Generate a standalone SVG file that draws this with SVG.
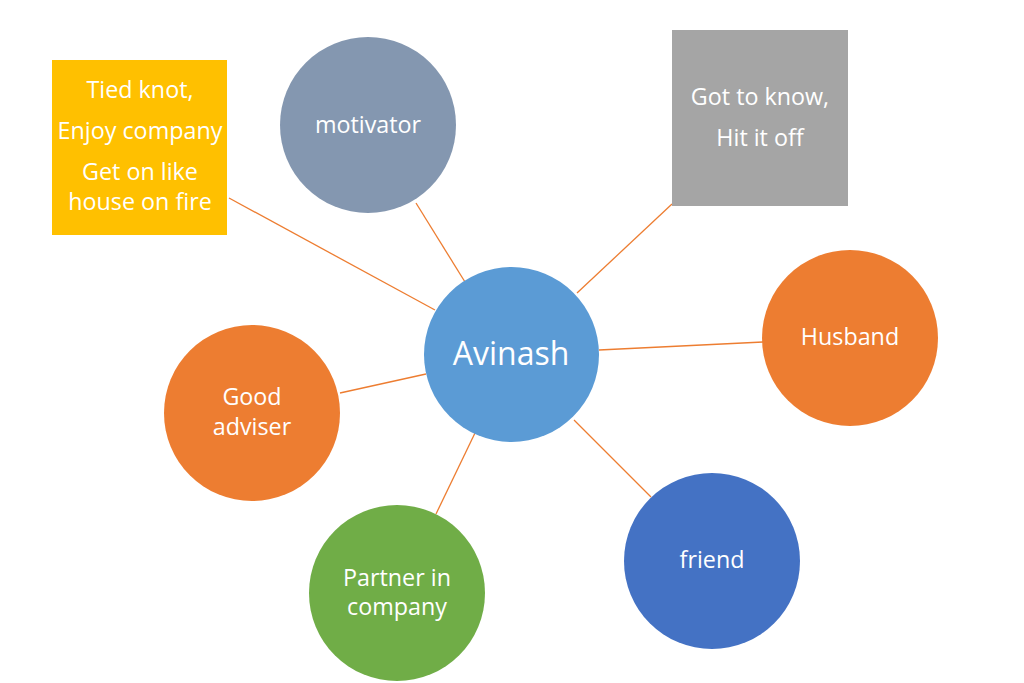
<svg xmlns="http://www.w3.org/2000/svg" width="1024" height="683" viewBox="0 0 1024 683">
<style>
text{font-family:"Open Sans","Liberation Sans",sans-serif;fill:#fff;text-anchor:middle;font-size:23.3px}
.big{font-size:32px}
.conn line{stroke:#ED7D31;stroke-width:1.3}
</style>
<rect width="1024" height="683" fill="#fff"/>
<g class="conn" id="connectors">
<line x1="229" y1="198" x2="435" y2="310"/>
<line x1="416" y1="203" x2="465" y2="282"/>
<line x1="672" y1="204" x2="577" y2="293"/>
<line x1="599" y1="350" x2="763" y2="342"/>
<line x1="340" y1="393" x2="426" y2="374"/>
<line x1="436" y1="514" x2="475" y2="433"/>
<line x1="574" y1="420" x2="651" y2="497"/>
</g>
<g id="yellow"><rect x="52" y="60" width="175" height="175" fill="#FFC000"/>
<text x="140" y="98">Tied knot,</text><text x="140" y="139">Enjoy company</text><text x="140" y="180">Get on like</text><text x="140" y="210">house on fire</text></g>
<g id="motivator"><circle cx="368" cy="125" r="88" fill="#8497B0"/><text x="368" y="133">motivator</text></g>
<g id="gray"><rect x="672" y="30" width="176" height="176" fill="#A5A5A5"/>
<text x="760" y="105">Got to know,</text><text x="760" y="146">Hit it off</text></g>
<g id="avinash"><circle cx="511.5" cy="354.5" r="87.5" fill="#5B9BD5"/><text class="big" x="511" y="365">Avinash</text></g>
<g id="husband"><circle cx="850" cy="338" r="88" fill="#ED7D31"/><text x="850" y="345">Husband</text></g>
<g id="adviser"><circle cx="252" cy="413" r="88" fill="#ED7D31"/><text x="252" y="405">Good</text><text x="252" y="435">adviser</text></g>
<g id="partner"><circle cx="397" cy="593" r="88" fill="#70AD47"/><text x="397" y="586">Partner in</text><text x="397" y="615">company</text></g>
<g id="friend"><circle cx="712" cy="561" r="88" fill="#4472C4"/><text x="712" y="568">friend</text></g>
</svg>
